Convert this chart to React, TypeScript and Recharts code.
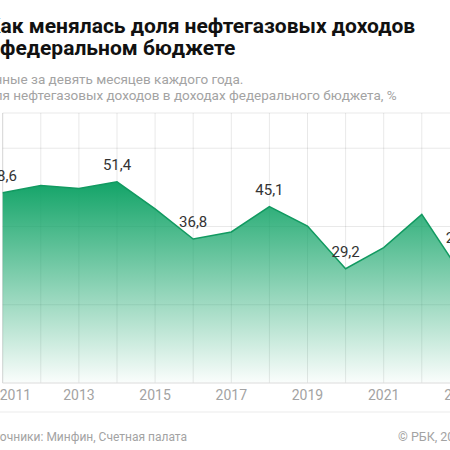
import React from 'react';
import {
  AreaChart,
  Area,
  XAxis,
  YAxis,
  CartesianGrid,
  LabelList,
} from 'recharts';

const years = [2011, 2012, 2013, 2014, 2015, 2016, 2017, 2018, 2019, 2020, 2021, 2022, 2023];
const shares = [48.6, 50.5, 49.7, 51.4, 44.5, 36.8, 38.6, 45.1, 40.1, 29.2, 34.6, 43.1, 28.3];
const labelledYears = [2011, 2014, 2016, 2018, 2020];
const lastYear = 2023;
const tickYears = [2011, 2013, 2015, 2017, 2019, 2021, 2023];
const yTicks = [0, 20, 40, 60, 69];

const chartData = years.map((year, i) => ({
  year,
  share: shares[i],
  label: labelledYears.includes(year) ? shares[i] : null,
  lastLabel: year === lastYear ? shares[i] : null,
}));

const font = 'Roboto, "Noto Sans", sans-serif';

const YearTick = ({ x, y, payload, index }: any) => {
  if (!tickYears.includes(payload.value)) return null;
  const first = index === 0;
  return (
    <text
      x={first ? x - 3 : x}
      y={y + 9}
      textAnchor={first ? 'start' : 'middle'}
      fill="#a3a3a3"
      fontSize={14}
      fontFamily={font}
    >
      {payload.value}
    </text>
  );
};

const fmt = (v: any) => (v == null ? '' : Number(v).toFixed(1).replace('.', ','));

export default function App() {
  return (
    <div
      style={{
        position: 'fixed',
        left: 0,
        top: 0,
        width: 450,
        height: 450,
        overflow: 'hidden',
        background: '#fff',
      }}
    >
      <svg
        width={450}
        height={450}
        style={{ position: 'absolute', left: 0, top: 0 }}
        fontFamily={font}
      >
        <text x={-13} y={33} fontSize={21} fontWeight={700} fill="#111">
          Как менялась доля нефтегазовых доходов
        </text>
        <text x={-17} y={55} fontSize={21} fontWeight={700} fill="#111">
          в федеральном бюджете
        </text>
        <text x={-23} y={84} fontSize={13.5} fill="#a3a3a3">
          Данные за девять месяцев каждого года.
        </text>
        <text x={-23} y={100} fontSize={13.5} fill="#a3a3a3">
          Доля нефтегазовых доходов в доходах федерального бюджета, %
        </text>
        <line x1={0} x2={450} y1={412} y2={412} stroke="#ebebeb" />
        <text x={-20.5} y={441} fontSize={12} fill="#a3a3a3">
          Источники: Минфин, Счетная палата
        </text>
        <text x={398} y={441} fontSize={12.5} fill="#a3a3a3">
          © РБК, 2023
        </text>
      </svg>
      <div style={{ position: 'absolute', left: 0, top: 0 }}>
        <AreaChart
          width={470}
          height={420}
          data={chartData}
          margin={{ top: 113, right: 10.1, bottom: 0, left: 2.7 }}
        >
          <defs>
            <linearGradient id="oilGas" x1="0" y1="0" x2="0" y2="1">
              <stop offset="0%" stopColor="#13a468" stopOpacity={1} />
              <stop offset="100%" stopColor="#13a468" stopOpacity={0.02} />
            </linearGradient>
          </defs>
          <XAxis
            dataKey="year"
            height={37}
            interval={0}
            axisLine={{ stroke: '#e6e6e6' }}
            tickLine={false}
            tick={<YearTick />}
          />
          <YAxis hide domain={[0, 69]} ticks={yTicks} />
          <Area
            type="linear"
            dataKey="share"
            stroke="#129a61"
            strokeWidth={1.5}
            fill="url(#oilGas)"
            fillOpacity={1}
            isAnimationActive={false}
          >
            <LabelList
              dataKey="label"
              position="top"
              offset={12}
              formatter={fmt}
              fill="#333"
              fontSize={15}
              fontFamily={font}
            />
            <LabelList
              dataKey="lastLabel"
              position="top"
              offset={29}
              formatter={fmt}
              fill="#333"
              fontSize={15}
              fontFamily={font}
            />
          </Area>
          <CartesianGrid stroke="rgba(0,0,0,0.09)" />
        </AreaChart>
      </div>
    </div>
  );
}
